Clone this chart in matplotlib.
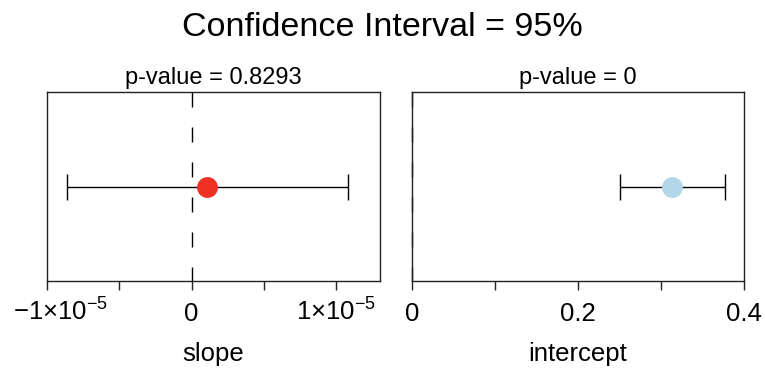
import numpy as np
import matplotlib
matplotlib.use("Agg")
import matplotlib.pyplot as plt
from matplotlib.transforms import ScaledTranslation

plt.rcParams['font.family'] = ['Liberation Sans', 'DejaVu Sans']
plt.rcParams['mathtext.fontset'] = 'custom'
plt.rcParams['mathtext.rm'] = 'Liberation Sans'
plt.rcParams['mathtext.it'] = 'Liberation Sans:italic'
plt.rcParams['mathtext.bf'] = 'Liberation Sans:bold'
plt.rcParams['lines.scale_dashes'] = False

# coefficient estimates and their 95% intervals
params = ["slope", "intercept"]
estimates = [1.1e-6, 0.3137]
ci_low = [-8.6e-6, 0.250]
ci_high = [1.08e-5, 0.377]
p_values = ["0.8293", "0"]
colors = ["#EE3124", "#B3D7E8"]

# axis ranges and tick labels for each panel
xlims = [(-1e-5, 1.304e-5), (0, 0.4)]
xticks = [[-1e-5, -5e-6, 0, 5e-6, 1e-5], [0, 0.1, 0.2, 0.3, 0.4]]
xticklabels = [[r"$-1{\times}10^{-5}$", "", "0", "", r"$1{\times}10^{-5}$"],
               ["0", "", "0.2", "", "0.4"]]

fig = plt.figure(figsize=(7.65, 3.73), dpi=100)
fig.suptitle("Confidence Interval = 95%", fontsize=24.5, y=1 - 36/373, va='baseline')

lefts = [47/765, 412/765]
widths = [333/765, 332/765]
bottom = (373 - 281)/373
height = 189/373
spine_col = "#222222"

for i in range(2):
    ax = fig.add_axes([lefts[i], bottom, widths[i], height])
    ax.set_xlim(*xlims[i])
    ax.set_ylim(0, 1)

    # reference line at zero
    ax.plot([0, 0], [1, 0], color="black", lw=1.0, dashes=(10.8, 14.4), clip_on=False, zorder=1)

    err = [[estimates[i] - ci_low[i]], [ci_high[i] - estimates[i]]]
    ax.errorbar([estimates[i]], [0.5], xerr=err, fmt='none', ecolor='black',
                elinewidth=1.0, capsize=9.6, capthick=1.0, zorder=2)
    ax.plot([estimates[i]], [0.5], 'o', ms=15, color=colors[i], mec='none', zorder=3)

    ax.set_title("p-value = " + p_values[i], fontsize=17, pad=5.5)
    ax.set_xticks(xticks[i])
    ax.set_xticklabels(xticklabels[i])
    ax.set_yticks([])
    ax.tick_params(axis='x', direction='out', length=6.5, width=1.0, color=spine_col,
                   labelsize=18.5, pad=22)
    for lab in ax.get_xticklabels():
        lab.set_va('baseline')
    if i == 0:
        # keep the leftmost label inside the figure
        first = ax.get_xticklabels()[0]
        first.set_transform(first.get_transform() + ScaledTranslation(0.14, 0, fig.dpi_scale_trans))
    ax.set_xlabel(params[i], fontsize=18.5, va='baseline')
    ax.xaxis.set_label_coords(0.5, -80/189)
    for s in ax.spines.values():
        s.set_color(spine_col)
        s.set_linewidth(1.0)

fig.savefig("out.png", dpi=100)
